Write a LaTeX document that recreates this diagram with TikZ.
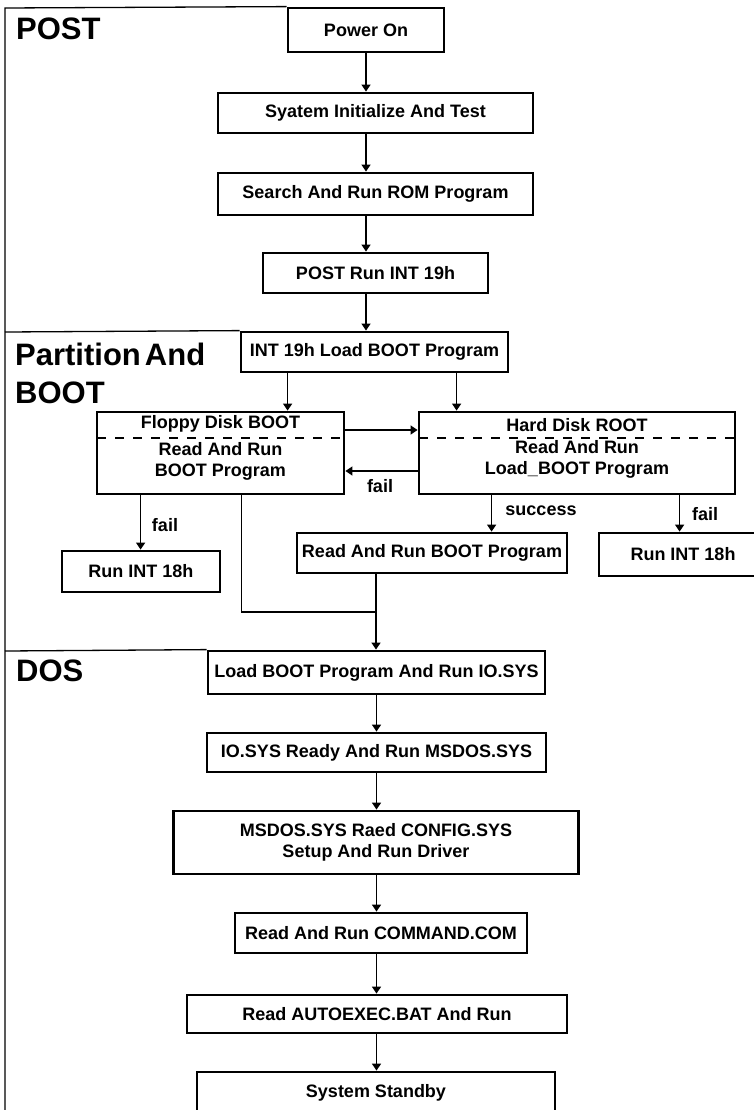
\documentclass[tikz,border=0pt]{standalone}
\usepackage{fontspec}
\setmainfont{Liberation Sans}
\usetikzlibrary{arrows.meta,calc}
\begin{document}
\begin{tikzpicture}[x=1pt,y=-1pt,
  box/.style={draw, line width=2.8pt, inner sep=0pt, font=\fontsize{18}{21}\selectfont\bfseries, align=center},
  conn/.style={line width=1.4pt},
  arr/.style={conn, -{Triangle[width=9pt,length=7pt]}},
  lbl/.style={font=\fontsize{18}{21}\selectfont\bfseries, inner sep=0pt},
  big/.style={font=\fontsize{31}{38}\selectfont\bfseries, inner sep=0pt, align=left},
  frame/.style={line width=1.3pt},
  sep/.style={line width=1.2pt, dash pattern=on 9pt off 9pt}]
\useasboundingbox (0,0) rectangle (754,1110);
\clip (0,0) rectangle (754,1110);
\fill[white] (0,0) rectangle (754,1110);

% section labels
\node[big, anchor=west] (lpost) at (16,29) {POST};
\node[big, anchor=north west] (lpart) at (15,343) {{\spaceskip=4pt Partition And}\\BOOT};
\node[big, anchor=west] (ldos) at (16,671) {DOS};

% POST
\node[box, minimum width=156pt, minimum height=44pt] (power) at (366,30) {Power On};
\node[box, minimum width=315pt, minimum height=40pt] (sys) at (375.5,113) {Syatem Initialize And Test};
\node[box, minimum width=315pt, minimum height=42pt] (search) at (375.5,194) {Search And Run ROM Program};
\node[box, minimum width=225pt, minimum height=40pt] (postrun) at (375.5,273) {POST Run INT 19h};

% Partition and BOOT
\node[box, minimum width=267pt, minimum height=40pt] (int19) at (374.5,352) {INT 19h Load BOOT Program};
\node[box, minimum width=247pt, minimum height=82pt] (floppy) at (220.5,453) {};
\node[box, minimum width=316pt, minimum height=82pt] (hard) at (577,453) {};
\node[lbl] (ftitle) at (220.5,424) {Floppy Disk BOOT};
\node[lbl, align=center] (fbody) at (220.5,461) {Read And Run\\BOOT Program};
\node[lbl] (htitle) at (577,425) {Hard Disk ROOT};
\node[lbl, align=center] (hbody) at (577,459) {Read And Run\\Load\_BOOT Program};
\draw[sep] ([xshift=1.4pt]floppy.west |- 0,438) coordinate (fd1) -- ([xshift=-1.4pt]fd1 -| floppy.east);
\draw[sep] ([xshift=1.4pt]hard.west |- 0,438) coordinate (hd1) -- ([xshift=-1.4pt]hd1 -| hard.east);

\node[box, minimum width=158pt, minimum height=41pt] (runL) at (141,571.5) {Run INT 18h};
\node[box, minimum width=270pt, minimum height=40pt] (readboot) at (432,553) {Read And Run BOOT Program};
\node[box, minimum width=168pt, minimum height=43pt] (runR) at (683,554.5) {Run INT 18h};

% DOS
\node[box, minimum width=337pt, minimum height=43pt] (load) at (376.5,672.5) {Load BOOT Program And Run IO.SYS};
\node[box, minimum width=339pt, minimum height=39pt] (io) at (376.5,752.5) {IO.SYS Ready And Run MSDOS.SYS};
\node[box, minimum width=405pt, minimum height=63pt] (msdos) at (376,842.5) {MSDOS.SYS Raed CONFIG.SYS\\Setup And Run Driver};
\node[box, minimum width=292pt, minimum height=40pt] (command) at (381,933) {Read And Run COMMAND.COM};
\node[box, minimum width=380pt, minimum height=38pt] (autoexec) at (377,1014) {Read AUTOEXEC.BAT And Run};
\node[box, minimum width=358pt, minimum height=42pt] (standby) at (376,1093) {System Standby};

% frame
\draw[frame] (power.north west) -- (5,8) coordinate (tl) -- (5,1115) coordinate (bl);
\draw[frame] (5,332) coordinate (s1) -- (int19.north west);
\draw[frame] (5,651) coordinate (s2) -- (load.north west);

% POST arrows
\draw[arr] (power.south) -- (power.south |- sys.north);
\draw[arr] (power.south |- sys.south) -- (power.south |- search.north);
\draw[arr] (power.south |- search.south) -- (power.south |- postrun.north);
\draw[arr] (power.south |- postrun.south) -- (power.south |- int19.north);

% BOOT arrows
\draw[arr] ([xshift=48pt]int19.south west) coordinate (a1) -- (a1 |- floppy.north);
\draw[arr] ([xshift=217pt]int19.south west) coordinate (a2) -- (a2 |- hard.north);
\draw[arr] (floppy.east |- 0,430) coordinate (a3) -- (a3 -| hard.west);
\draw[arr] (hard.west |- 0,471) coordinate (a4) -- (a4 -| floppy.east);
\node[lbl] (lfail1) at (380,486) {fail};
\draw[arr] ([xshift=45pt]floppy.south west) coordinate (a5) -- (a5 |- runL.north);
\node[lbl] (lfail2) at (165,525) {fail};
\draw[arr] ([xshift=74pt]hard.south west) coordinate (a6) -- (a6 |- readboot.north);
\node[lbl] (lsucc) at (541,511) {success};
\draw[arr] ([xshift=262pt]hard.south west) coordinate (a7) -- (a7 |- runR.north);
\node[lbl] (lfail3) at (705,514) {fail};

% merge
\coordinate (m) at (376,612);
\draw[conn] ([xshift=146pt]floppy.south west) |- (m);
\draw[arr] (readboot.south -| m) -- (m |- load.north);

% DOS arrows
\draw[arr] (load.south) -- (load.south |- io.north);
\draw[arr] (load.south |- io.south) -- (load.south |- msdos.north);
\draw[arr] (load.south |- msdos.south) -- (load.south |- command.north);
\draw[arr] (load.south |- command.south) -- (load.south |- autoexec.north);
\draw[arr] (load.south |- autoexec.south) -- (load.south |- standby.north);
\end{tikzpicture}
\end{document}
